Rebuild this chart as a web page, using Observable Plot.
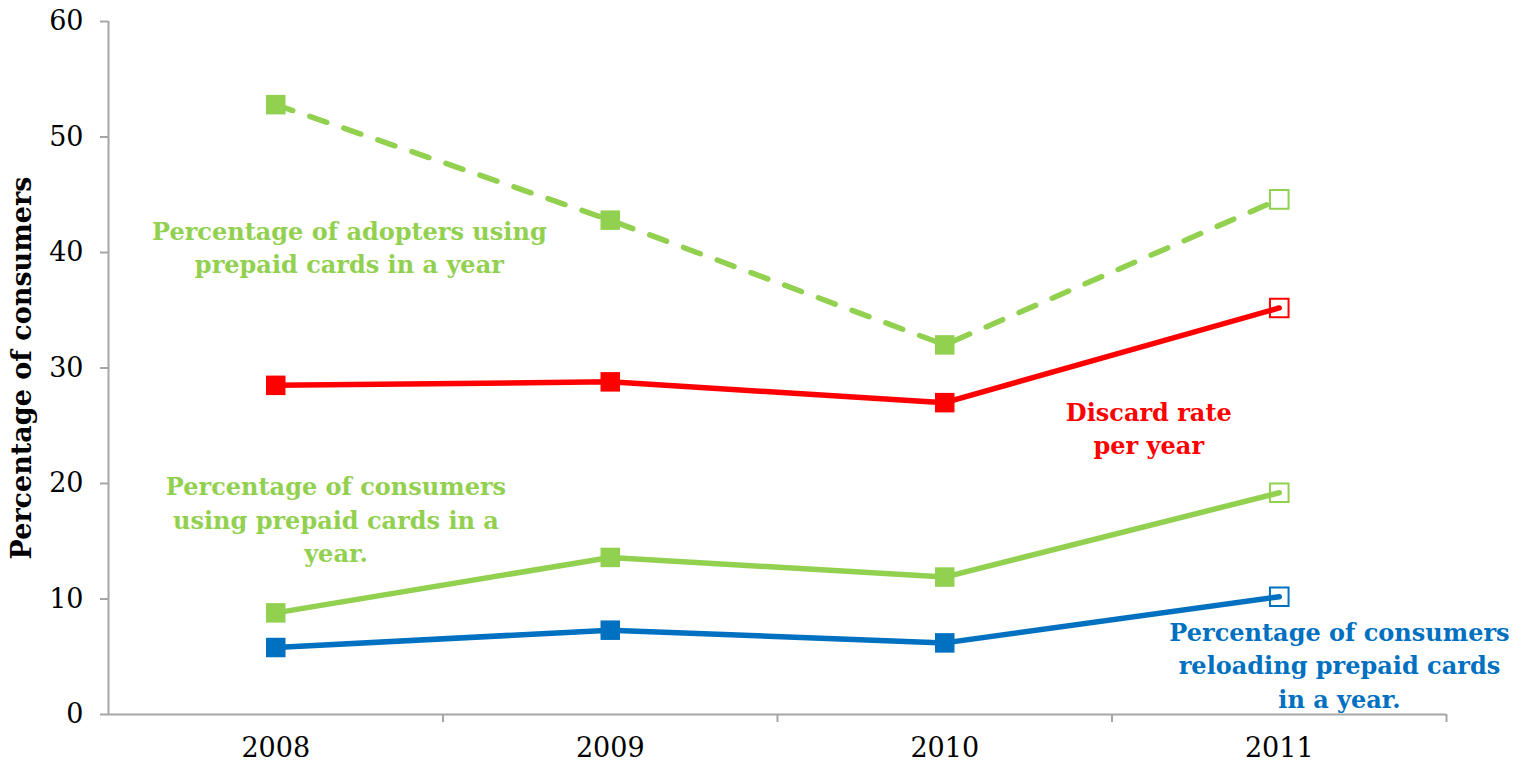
<!DOCTYPE html>
<html>
<head>
<meta charset="utf-8">
<script src="https://cdn.jsdelivr.net/npm/d3@7"></script>
<script src="https://cdn.jsdelivr.net/npm/@observablehq/plot@0.6"></script>
<style>
  html, body { margin: 0; padding: 0; background: #fff; }
  #chart { width: 1520px; height: 762px; }
</style>
</head>
<body>
<div id="chart"></div>
<script>
// ---- data ----
const years = [2008, 2009, 2010, 2011];
const estimated = [false, false, false, true];          // 2011 points drawn hollow
const adoptersUsing = [52.8, 42.8, 32.0, 44.6];          // dashed green
const discardRate = [28.5, 28.8, 27.0, 35.2];            // red
const consumersUsing = [8.8, 13.6, 11.9, 19.2];          // solid green
const consumersReloading = [5.8, 7.3, 6.2, 10.2];        // blue
const yTicks = [0, 10, 20, 30, 40, 50, 60];
const yLabel = "Percentage of consumers";

const seriesNames = ["adopters", "discard", "using", "reloading"];
const seriesValues = [adoptersUsing, discardRate, consumersUsing, consumersReloading];
const seriesColors = ["#92D050", "#FF0000", "#92D050", "#0070C0"];

const rows = [];
seriesNames.forEach((s, i) => years.forEach((yr, j) =>
  rows.push({series: s, year: yr, value: seriesValues[i][j], est: estimated[j], color: seriesColors[i]})));

const labels = [
  {text: "Percentage of adopters using\nprepaid cards in a year", color: "#92D050", x: 2008.22, y: 40.6},
  {text: "Discard rate\nper year", color: "#FF0000", x: 2010.61, y: 24.9},
  {text: "Percentage of consumers\nusing prepaid cards in a\nyear.", color: "#92D050", x: 2008.18, y: 17.0},
  {text: "Percentage of consumers\nreloading prepaid cards\nin a year.", color: "#0070C0", x: 2011.18, y: 4.4}
];

const serif = "'DejaVu Serif', 'Liberation Serif', serif";
const axisColor = "#A6A6A6";
const boundaries = years.map(y => y + 0.5);

const lineFor = (name, extra = {}) => Plot.line(rows.filter(d => d.series === name), {
  x: "year", y: "value", stroke: "color", strokeWidth: 5.5, strokeLinecap: "round", strokeLinejoin: "round", ...extra
});

const chart = Plot.plot({
  width: 1520,
  height: 762,
  marginLeft: 108,
  marginRight: 74,
  marginTop: 21,
  marginBottom: 48,
  style: {fontFamily: serif, fontSize: "27px", color: "#000", background: "#fff"},
  x: {domain: [2007.5, 2011.5], axis: null},
  y: {domain: [0, 60], axis: null},
  color: {type: "identity"},
  marks: [
    // axes
    Plot.axisY({ticks: yTicks, tickSize: 8, tickPadding: 17, stroke: axisColor, strokeWidth: 2, tickFormat: d => String(d), fill: "#000", label: null, fontSize: 27}),
    Plot.ruleX([2007.5], {stroke: axisColor, strokeWidth: 2}),
    Plot.ruleY([0], {stroke: axisColor, strokeWidth: 2}),
    Plot.axisX({ticks: boundaries, tickSize: 8, tickFormat: () => "", stroke: axisColor, strokeWidth: 2, label: null}),
    Plot.axisX({ticks: years, tickSize: 0, tickPadding: 23, tickFormat: d => String(d), fill: "#000", label: null, fontSize: 27}),
    Plot.text([yLabel], {frameAnchor: "left", textAnchor: "middle", dx: -86, rotate: -90, fontWeight: "bold", fontSize: 27, fill: "#000"}),
    // lines
    lineFor("adopters", {strokeDasharray: "18,18"}),
    lineFor("discard"),
    lineFor("using"),
    lineFor("reloading"),
    // markers
    Plot.dot(rows.filter(d => !d.est), {x: "year", y: "value", symbol: "square", r: 11, fill: "color", stroke: "color", strokeWidth: 0}),
    Plot.dot(rows.filter(d => d.est), {x: "year", y: "value", symbol: "square", r: 10.5, fill: "none", stroke: "color", strokeWidth: 2}),
    // annotations
    Plot.text(labels, {x: "x", y: "y", text: "text", fill: "color", fontWeight: "bold", fontSize: 24, lineHeight: 1.4, textAnchor: "middle"})
  ]
});

document.getElementById("chart").append(chart);
</script>
</body>
</html>
